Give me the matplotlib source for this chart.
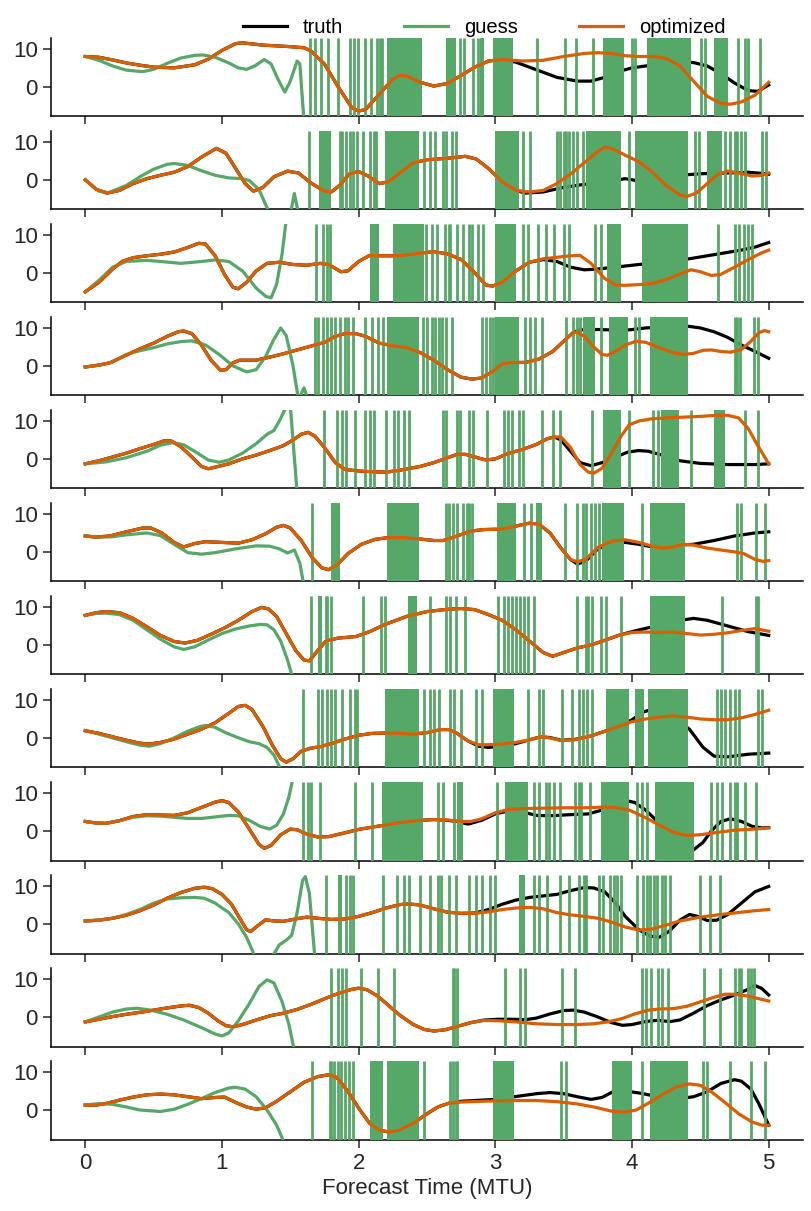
import matplotlib.pyplot as plt

plt.rcParams['font.family'] = ['Liberation Sans', 'DejaVu Sans']

# (time, value) knots
truth1 = [(0,8.0),(0.1,7.8),(0.2,7.1),(0.3,6.3),(0.4,5.7),(0.5,5.2),(0.65,5.0),(0.8,5.8),(0.9,7.3),(1.0,9.6),(1.1,11.4),(1.15,11.6),(1.3,11.0),(1.5,10.6),(1.6,10.3),(1.65,9.5),(1.75,6.0),(1.85,0.0),(1.95,-5.5),(2.0,-6.4),(2.05,-6.0),(2.15,-2.0),(2.25,2.0),(2.3,3.0),(2.35,2.9),(2.45,1.2),(2.55,0.2),(2.65,0.9),(2.75,3.0),(2.85,5.2),(2.95,6.8),(3.05,7.2),(3.15,6.5),(3.3,4.5),(3.45,2.5),(3.6,1.5),(3.7,1.5),(3.8,2.5),(3.9,4.0),(4.0,5.0),(4.2,6.0),(4.35,6.6),(4.45,6.4),(4.55,5.5),(4.65,3.5),(4.75,1.0),(4.85,-1.0),(4.92,-1.2),(5.0,0.5)]
truth2 = [(0,0.0),(0.08,-2.5),(0.16,-3.5),(0.25,-2.8),(0.35,-1.0),(0.45,0.3),(0.55,1.2),(0.65,2.0),(0.75,3.5),(0.85,6.0),(0.96,8.3),(1.03,7.0),(1.1,3.0),(1.17,-1.0),(1.23,-3.0),(1.3,-2.0),(1.38,0.8),(1.48,2.3),(1.56,1.8),(1.65,-0.8),(1.75,-3.0),(1.8,-3.2),(1.86,-1.5),(1.93,1.5),(2.0,2.2),(2.07,1.0),(2.15,-1.0),(2.22,-0.5),(2.3,1.8),(2.4,4.5),(2.5,5.3),(2.65,5.7),(2.78,6.2),(2.86,5.5),(2.95,3.0),(3.05,-0.5),(3.15,-2.8),(3.22,-3.5),(3.35,-3.2),(3.5,-2.0),(3.65,-1.2),(3.8,-0.5),(3.95,0.3),(4.1,-0.6),(4.2,0.0),(4.35,1.2),(4.5,1.6),(4.7,1.8),(4.85,2.0),(4.95,1.7),(5.0,1.5)]
truth3 = [(0,-5.0),(0.1,-2.5),(0.2,1.0),(0.27,3.0),(0.35,4.0),(0.45,4.5),(0.55,4.9),(0.65,5.5),(0.75,6.7),(0.83,7.8),(0.88,7.6),(0.95,4.5),(1.02,-0.5),(1.08,-3.8),(1.12,-4.2),(1.18,-2.5),(1.25,0.5),(1.33,2.5),(1.42,2.8),(1.52,2.2),(1.62,2.0),(1.72,2.5),(1.78,2.2),(1.87,0.3),(1.92,0.5),(2.0,3.0),(2.08,4.6),(2.15,4.5),(2.3,4.5),(2.45,5.2),(2.55,5.6),(2.65,5.0),(2.75,3.5),(2.85,0.0),(2.93,-3.2),(2.98,-3.5),(3.05,-2.5),(3.15,0.5),(3.25,2.8),(3.35,3.5),(3.45,3.0),(3.55,1.5),(3.65,0.8),(3.75,1.0),(3.9,1.6),(4.05,2.2),(4.2,2.7),(4.4,3.6),(4.6,4.8),(4.8,6.0),(4.9,6.8),(5.0,8.0)]
truth4 = [(0,-0.3),(0.1,0.2),(0.18,0.8),(0.28,2.5),(0.4,4.5),(0.5,6.0),(0.6,7.8),(0.68,9.0),(0.72,9.2),(0.78,8.5),(0.85,5.5),(0.92,1.5),(0.99,-1.2),(1.03,-1.0),(1.08,0.8),(1.13,1.5),(1.25,1.5),(1.35,2.3),(1.45,3.2),(1.55,4.2),(1.65,5.2),(1.75,6.2),(1.83,7.8),(1.9,8.5),(1.98,8.5),(2.05,7.8),(2.15,6.0),(2.25,5.3),(2.35,4.8),(2.45,3.5),(2.55,1.5),(2.65,-1.0),(2.75,-3.0),(2.83,-3.5),(2.9,-3.2),(2.98,-1.5),(3.05,0.5),(3.12,0.9),(3.22,0.9),(3.32,1.8),(3.42,3.8),(3.5,6.5),(3.57,8.8),(3.62,9.5),(3.75,9.6),(3.9,9.4),(3.98,9.5),(4.1,10.0),(4.25,10.3),(4.4,10.5),(4.5,10.0),(4.6,9.0),(4.7,7.5),(4.8,5.5),(4.9,3.8),(5.0,2.0)]
truth5 = [(0,-1.3),(0.1,-0.5),(0.2,0.5),(0.3,1.5),(0.4,2.7),(0.5,3.8),(0.58,4.8),(0.63,4.7),(0.7,3.2),(0.78,0.5),(0.85,-2.0),(0.9,-2.6),(0.95,-2.2),(1.05,-1.3),(1.15,0.0),(1.25,1.0),(1.35,2.2),(1.45,3.5),(1.52,5.0),(1.58,6.5),(1.63,7.0),(1.68,6.0),(1.75,3.0),(1.83,-1.0),(1.9,-2.8),(2.0,-3.2),(2.1,-3.4),(2.2,-3.5),(2.3,-3.0),(2.45,-2.0),(2.55,-1.0),(2.65,0.3),(2.72,1.2),(2.78,1.2),(2.86,0.4),(2.93,-0.3),(3.0,0.0),(3.1,1.5),(3.2,2.5),(3.3,3.8),(3.38,5.3),(3.43,5.8),(3.48,5.0),(3.55,2.0),(3.62,-1.0),(3.7,-1.8),(3.78,-1.0),(3.88,0.5),(3.97,1.8),(4.05,2.2),(4.12,2.0),(4.22,1.0),(4.35,-0.5),(4.5,-1.2),(4.7,-1.5),(4.9,-1.5),(5.0,-1.3)]
truth6 = [(0,4.2),(0.08,3.9),(0.18,4.2),(0.3,5.3),(0.42,6.3),(0.48,6.3),(0.56,5.0),(0.65,2.5),(0.72,1.3),(0.8,2.2),(0.88,2.7),(1.0,2.5),(1.12,2.3),(1.22,3.2),(1.32,4.8),(1.4,6.5),(1.45,7.0),(1.5,6.3),(1.58,3.0),(1.66,-1.5),(1.73,-4.2),(1.78,-4.7),(1.84,-3.5),(1.92,-0.5),(2.02,2.0),(2.12,3.3),(2.22,3.8),(2.32,3.8),(2.45,3.4),(2.55,3.0),(2.62,3.0),(2.72,4.2),(2.82,5.5),(2.92,5.9),(3.05,6.0),(3.15,6.8),(3.25,7.6),(3.32,7.3),(3.4,5.0),(3.48,1.0),(3.55,-2.0),(3.6,-3.2),(3.66,-2.5),(3.75,0.8),(3.85,2.3),(3.95,2.5),(4.05,2.0),(4.15,1.3),(4.25,1.2),(4.35,1.8),(4.45,2.0),(4.6,3.0),(4.75,4.2),(4.9,5.0),(5.0,5.3)]
truth7 = [(0,7.8),(0.08,8.5),(0.15,8.8),(0.25,8.5),(0.35,7.0),(0.45,4.8),(0.55,2.5),(0.65,0.9),(0.73,0.5),(0.82,1.2),(0.92,2.8),(1.02,4.5),(1.12,6.5),(1.22,8.8),(1.29,9.9),(1.34,9.5),(1.4,7.5),(1.47,3.0),(1.54,-1.5),(1.6,-4.0),(1.64,-4.2),(1.7,-1.5),(1.76,1.0),(1.85,1.8),(1.98,2.2),(2.08,3.5),(2.2,5.5),(2.35,7.5),(2.5,8.8),(2.65,9.4),(2.75,9.6),(2.85,9.3),(2.95,8.0),(3.05,6.5),(3.15,4.0),(3.25,1.0),(3.35,-2.0),(3.42,-3.0),(3.5,-2.0),(3.6,-0.8),(3.7,0.0),(3.8,1.2),(3.9,2.5),(4.0,3.5),(4.15,4.8),(4.3,6.2),(4.45,7.0),(4.55,6.5),(4.7,5.0),(4.85,3.5),(5.0,2.5)]
truth8 = [(0,1.9),(0.1,1.2),(0.2,0.3),(0.3,-0.6),(0.4,-1.4),(0.47,-1.6),(0.55,-1.2),(0.65,-0.3),(0.75,1.0),(0.85,2.3),(0.95,4.0),(1.05,6.5),(1.12,8.3),(1.17,8.6),(1.22,7.5),(1.3,3.0),(1.37,-2.0),(1.43,-5.5),(1.47,-6.4),(1.52,-5.5),(1.58,-3.5),(1.65,-2.7),(1.72,-2.3),(1.8,-1.5),(1.9,-0.3),(2.0,0.7),(2.1,1.2),(2.2,1.3),(2.3,1.2),(2.4,1.0),(2.5,1.4),(2.6,2.2),(2.66,2.2),(2.72,1.2),(2.8,-0.8),(2.88,-2.2),(2.95,-2.5),(3.05,-2.2),(3.15,-1.5),(3.25,-0.5),(3.33,0.3),(3.4,0.1),(3.48,-0.6),(3.58,-0.4),(3.68,0.3),(3.78,1.5),(3.9,3.0),(4.0,4.8),(4.08,6.8),(4.14,7.5),(4.22,7.0),(4.32,5.0),(4.42,2.3),(4.52,-2.5),(4.6,-4.8),(4.7,-5.0),(4.85,-4.3),(5.0,-4.0)]
truth9 = [(0,2.5),(0.08,2.1),(0.15,2.0),(0.25,2.7),(0.35,3.8),(0.45,4.3),(0.55,4.2),(0.65,4.1),(0.75,4.8),(0.85,6.2),(0.95,7.6),(1.0,8.0),(1.05,7.5),(1.12,5.0),(1.2,0.5),(1.27,-3.5),(1.31,-4.6),(1.36,-3.8),(1.43,-1.0),(1.5,0.5),(1.55,0.3),(1.62,-0.8),(1.7,-1.6),(1.78,-1.5),(1.9,-0.5),(2.0,0.4),(2.15,1.3),(2.3,2.2),(2.45,2.8),(2.55,3.0),(2.65,2.8),(2.72,2.5),(2.8,1.8),(2.9,2.8),(3.0,4.5),(3.1,5.3),(3.2,5.0),(3.3,4.1),(3.4,4.0),(3.55,4.3),(3.68,4.5),(3.78,5.5),(3.88,7.0),(3.96,8.0),(4.02,7.5),(4.1,5.5),(4.2,2.0),(4.3,-1.5),(4.38,-4.0),(4.45,-5.0),(4.52,-3.0),(4.58,0.0),(4.65,2.5),(4.72,3.2),(4.8,2.5),(4.88,1.2),(4.95,0.8),(5.0,0.9)]
truth10 = [(0,0.8),(0.1,1.0),(0.2,1.5),(0.3,2.3),(0.4,3.5),(0.5,5.0),(0.6,6.8),(0.7,8.3),(0.8,9.4),(0.87,9.7),(0.93,9.3),(1.0,7.8),(1.07,5.2),(1.13,1.5),(1.18,-1.5),(1.21,-2.0),(1.26,-0.5),(1.32,1.1),(1.38,0.8),(1.45,0.7),(1.55,1.4),(1.62,1.8),(1.7,1.5),(1.8,1.2),(1.9,1.3),(2.0,2.0),(2.1,3.0),(2.2,4.2),(2.3,5.1),(2.36,5.3),(2.45,5.0),(2.55,4.0),(2.65,3.1),(2.75,2.8),(2.85,2.9),(2.95,3.8),(3.05,5.2),(3.15,6.3),(3.25,7.0),(3.35,7.4),(3.45,7.8),(3.55,8.8),(3.65,9.6),(3.72,9.5),(3.8,8.5),(3.88,5.5),(3.95,2.0),(4.05,-1.5),(4.13,-3.2),(4.2,-3.5),(4.27,-2.0),(4.35,1.0),(4.42,2.5),(4.48,2.0),(4.55,0.9),(4.62,1.0),(4.7,2.5),(4.8,5.5),(4.9,8.5),(5.0,9.9)]
truth11 = [(0,-1.3),(0.1,-0.6),(0.2,0.1),(0.3,0.7),(0.45,1.5),(0.6,2.4),(0.7,2.9),(0.76,3.1),(0.83,2.5),(0.9,1.0),(0.97,-1.0),(1.03,-2.3),(1.08,-2.6),(1.15,-2.0),(1.25,-0.8),(1.35,0.3),(1.45,1.0),(1.55,2.0),(1.65,3.3),(1.75,4.8),(1.85,6.2),(1.95,7.3),(2.0,7.6),(2.06,7.2),(2.14,5.5),(2.22,3.0),(2.3,0.5),(2.4,-2.0),(2.48,-3.3),(2.55,-3.7),(2.63,-3.4),(2.72,-2.5),(2.82,-1.5),(2.92,-0.8),(3.02,-0.6),(3.12,-0.6),(3.22,-0.7),(3.3,-0.3),(3.4,0.8),(3.5,1.7),(3.57,1.8),(3.65,1.3),(3.75,0.0),(3.85,-1.5),(3.93,-2.2),(4.0,-2.0),(4.1,-1.2),(4.18,-0.9),(4.28,-1.2),(4.35,-0.8),(4.45,1.0),(4.55,3.0),(4.65,4.5),(4.75,5.8),(4.83,7.0),(4.9,8.3),(4.95,7.5),(5.0,5.8)]
truth12 = [(0,1.3),(0.08,1.3),(0.15,1.7),(0.25,2.6),(0.35,3.4),(0.45,4.0),(0.55,4.2),(0.65,4.0),(0.75,3.5),(0.85,3.0),(0.95,3.3),(1.02,3.4),(1.1,2.0),(1.18,0.8),(1.25,0.2),(1.32,0.6),(1.4,2.3),(1.5,4.8),(1.6,7.3),(1.7,8.8),(1.78,9.3),(1.84,8.6),(1.92,5.0),(2.0,0.5),(2.08,-3.5),(2.15,-5.3),(2.22,-5.8),(2.3,-5.3),(2.4,-3.5),(2.5,-1.0),(2.58,0.8),(2.66,1.8),(2.75,2.3),(2.9,2.6),(3.0,2.8),(3.1,3.3),(3.2,3.8),(3.3,4.3),(3.4,4.6),(3.5,4.3),(3.6,3.5),(3.7,2.8),(3.78,3.3),(3.86,4.8),(3.95,5.0),(4.05,4.5),(4.15,3.8),(4.25,3.3),(4.35,3.0),(4.45,3.5),(4.55,4.8),(4.65,7.0),(4.75,8.0),(4.8,7.6),(4.87,5.5),(4.93,1.5),(5.0,-4.0)]

# optimized run: follows truth until the first knot listed here
opt1 = [(3.05,7.2),(3.2,6.8),(3.35,7.0),(3.5,8.0),(3.65,8.8),(3.75,9.0),(3.85,8.8),(3.95,8.2),(4.05,8.0),(4.15,8.0),(4.25,7.5),(4.35,5.5),(4.45,1.5),(4.55,-2.5),(4.65,-4.4),(4.72,-4.6),(4.8,-4.0),(4.9,-2.2),(5.0,1.2)]
opt2 = [(3.15,-2.8),(3.25,-3.2),(3.35,-2.8),(3.45,-1.0),(3.55,1.5),(3.65,4.5),(3.75,7.5),(3.8,8.6),(3.87,8.0),(3.95,6.5),(4.05,4.8),(4.15,2.0),(4.25,-1.5),(4.35,-4.0),(4.4,-4.4),(4.47,-3.5),(4.55,-1.0),(4.63,1.5),(4.7,2.3),(4.78,1.8),(4.88,1.0),(4.95,1.2),(5.0,1.8)]
opt3 = [(3.35,3.7),(3.45,4.1),(3.55,4.5),(3.62,4.6),(3.7,2.5),(3.8,-1.5),(3.88,-3.2),(3.95,-3.3),(4.05,-3.1),(4.15,-2.8),(4.25,-1.8),(4.35,-0.3),(4.43,0.8),(4.5,0.3),(4.58,-0.7),(4.65,-0.4),(4.75,1.5),(4.85,3.5),(4.95,5.3),(5.0,6.0)]
opt4 = [(3.57,8.8),(3.6,8.9),(3.65,7.8),(3.72,5.0),(3.78,3.0),(3.82,2.8),(3.88,3.8),(3.95,5.5),(4.03,6.5),(4.1,6.2),(4.2,4.8),(4.3,3.5),(4.38,3.0),(4.45,3.3),(4.52,4.1),(4.58,4.2),(4.65,3.8),(4.72,3.6),(4.8,4.3),(4.87,6.5),(4.93,8.8),(4.97,9.3),(5.0,9.0)]
opt5 = [(3.48,5.8),(3.55,3.0),(3.62,-1.5),(3.68,-3.5),(3.72,-3.8),(3.78,-2.5),(3.85,1.5),(3.92,6.0),(3.98,9.0),(4.05,10.0),(4.15,10.6),(4.3,10.9),(4.5,11.2),(4.62,11.5),(4.7,11.5),(4.78,10.8),(4.85,8.0),(4.92,3.5),(5.0,-1.3)]
opt6 = [(3.55,-2.0),(3.6,-2.6),(3.66,-2.0),(3.75,1.2),(3.85,2.8),(3.95,3.2),(4.05,2.5),(4.15,1.5),(4.22,1.0),(4.3,1.3),(4.38,2.0),(4.45,1.8),(4.55,1.0),(4.65,0.5),(4.75,0.0),(4.82,-0.5),(4.9,-2.0),(4.96,-2.5),(5.0,-2.3)]
opt7 = [(4.0,3.3),(4.1,3.4),(4.2,3.3),(4.3,3.4),(4.4,3.0),(4.5,2.6),(4.6,2.8),(4.7,3.2),(4.8,3.8),(4.9,4.3),(5.0,3.6)]
opt8 = [(2.88,-1.8),(2.95,-1.8),(3.05,-1.6),(3.15,-1.2),(3.25,-0.5),(3.33,0.3),(3.4,0.0),(3.48,-0.7),(3.58,-0.5),(3.68,0.3),(3.78,1.5),(3.9,3.0),(4.0,4.3),(4.1,5.0),(4.2,5.5),(4.3,5.8),(4.4,5.5),(4.5,5.0),(4.6,4.8),(4.7,4.8),(4.8,5.3),(4.9,6.2),(5.0,7.3)]
opt9 = [(2.65,2.9),(2.75,2.5),(2.82,2.5),(2.9,3.2),(3.0,4.8),(3.1,5.7),(3.2,5.9),(3.35,6.0),(3.5,6.1),(3.65,6.1),(3.8,6.3),(3.88,6.2),(3.98,5.5),(4.1,3.5),(4.2,1.5),(4.3,-0.3),(4.4,-1.2),(4.5,-1.0),(4.6,-0.5),(4.75,0.2),(4.9,0.5),(5.0,0.8)]
opt10 = [(2.85,2.8),(2.95,3.2),(3.05,3.8),(3.15,4.2),(3.25,4.4),(3.35,4.0),(3.45,3.0),(3.55,2.4),(3.65,2.0),(3.75,1.5),(3.85,0.5),(3.95,-0.8),(4.05,-1.6),(4.15,-1.3),(4.25,-0.3),(4.35,0.8),(4.5,1.8),(4.65,2.5),(4.8,3.1),(4.9,3.5),(5.0,3.8)]
opt11 = [(2.92,-0.9),(3.02,-1.0),(3.15,-1.3),(3.3,-1.8),(3.45,-2.0),(3.6,-2.0),(3.72,-1.8),(3.82,-1.3),(3.92,-0.5),(4.02,0.8),(4.12,1.8),(4.2,2.1),(4.3,2.2),(4.4,2.8),(4.5,4.0),(4.6,5.2),(4.68,6.0),(4.75,6.0),(4.85,5.5),(4.93,4.8),(5.0,4.2)]
opt12 = [(2.66,1.8),(2.75,2.1),(2.9,2.3),(3.0,2.4),(3.15,2.5),(3.3,2.5),(3.45,2.2),(3.6,1.6),(3.72,0.8),(3.85,-0.3),(3.95,-0.6),(4.03,0.0),(4.12,1.8),(4.22,4.0),(4.32,6.0),(4.42,6.9),(4.5,6.5),(4.58,4.8),(4.68,2.0),(4.78,-1.0),(4.88,-3.2),(4.95,-4.0),(5.0,-4.0)]

# guess run: smooth start, then it blows up
guess1 = [(0,8.0),(0.1,7.0),(0.2,5.5),(0.3,4.4),(0.42,4.0),(0.5,4.6),(0.6,6.2),(0.7,7.6),(0.8,8.3),(0.86,8.4),(0.95,7.8),(1.05,6.3),(1.12,5.0),(1.18,4.6),(1.24,5.5),(1.31,7.2),(1.36,6.0),(1.41,2.0),(1.46,-1.4),(1.5,1.5),(1.55,6.8),(1.57,6.0),(1.6,-9)]
guess2 = [(0,0),(0.1,-3.0),(0.17,-3.4),(0.3,-1.5),(0.4,0.8),(0.5,2.8),(0.6,4.1),(0.65,4.3),(0.75,3.8),(0.85,2.4),(0.95,1.2),(1.05,0.5),(1.15,0.3),(1.2,-0.2),(1.27,-2.5),(1.35,-9),(1.5,-9),(1.53,-3.6),(1.56,-9)]
guess3 = [(0,-5.0),(0.1,-2.0),(0.2,1.5),(0.3,3.0),(0.45,3.3),(0.55,3.0),(0.7,2.5),(0.85,3.0),(0.95,3.4),(1.05,3.0),(1.15,0.5),(1.25,-4.0),(1.32,-6.2),(1.36,-6.6),(1.4,-3.0),(1.44,5.0),(1.47,14)]
guess4 = [(0,-0.3),(0.1,0.2),(0.2,1.0),(0.3,3.0),(0.4,4.0),(0.5,4.8),(0.6,5.8),(0.7,6.4),(0.78,6.6),(0.88,5.5),(0.98,3.0),(1.08,0.0),(1.18,-1.6),(1.25,-1.0),(1.32,2.5),(1.38,7.0),(1.43,10.0),(1.47,8.0),(1.52,0.0),(1.56,-9),(1.6,-5.8),(1.63,-9)]
guess5 = [(0,-1.3),(0.15,-0.8),(0.3,0.3),(0.45,2.0),(0.55,3.6),(0.64,4.3),(0.72,3.7),(0.8,2.0),(0.9,-0.3),(0.98,-0.9),(1.05,-0.3),(1.15,1.5),(1.25,4.0),(1.33,6.5),(1.38,7.5),(1.42,10.0),(1.46,13),(1.5,14),(1.55,-9)]
guess6 = [(0,4.2),(0.1,3.9),(0.2,4.0),(0.3,4.5),(0.45,5.0),(0.55,4.3),(0.65,2.0),(0.75,-0.2),(0.85,-0.6),(0.95,-0.2),(1.1,0.8),(1.25,1.6),(1.35,1.5),(1.42,0.8),(1.48,-0.3),(1.53,0.5),(1.57,-3.0),(1.6,-9)]
guess7 = [(0,7.8),(0.08,8.3),(0.15,8.4),(0.25,8.0),(0.35,6.5),(0.45,4.0),(0.55,1.5),(0.65,-0.5),(0.72,-1.2),(0.8,-0.5),(0.9,1.3),(1.0,3.0),(1.1,4.2),(1.2,5.0),(1.28,5.4),(1.33,5.3),(1.38,4.0),(1.43,1.0),(1.48,-4.0),(1.52,-9)]
guess8 = [(0,1.9),(0.1,1.0),(0.2,0.0),(0.3,-1.0),(0.4,-1.9),(0.47,-2.2),(0.55,-1.5),(0.65,0.0),(0.75,1.8),(0.84,3.0),(0.88,3.3),(0.95,2.8),(1.02,1.5),(1.1,0.3),(1.2,-1.0),(1.27,-1.5),(1.33,-2.5),(1.38,-4.5),(1.44,-9)]
guess9 = [(0,2.5),(0.08,2.1),(0.15,2.0),(0.25,2.7),(0.35,3.6),(0.45,4.0),(0.55,3.9),(0.65,3.6),(0.75,3.3),(0.85,3.3),(0.95,3.7),(1.05,4.1),(1.12,4.0),(1.2,2.8),(1.28,1.2),(1.35,0.5),(1.4,1.5),(1.45,4.5),(1.49,9.0),(1.52,14)]
guess10 = [(0,0.8),(0.1,1.0),(0.2,1.5),(0.3,2.5),(0.4,3.8),(0.5,5.5),(0.6,6.6),(0.7,6.9),(0.8,7.0),(0.87,6.8),(0.95,5.5),(1.05,3.0),(1.12,0.0),(1.18,-3.5),(1.24,-8.5),(1.37,-8.5),(1.42,-5.5),(1.47,-4.3),(1.51,-3.0),(1.55,3.0),(1.59,11.5),(1.61,12.5),(1.64,8.0),(1.68,-9)]
guess11 = [(0,-1.3),(0.1,0.0),(0.2,1.3),(0.3,2.1),(0.38,2.3),(0.48,1.8),(0.6,0.7),(0.72,-0.8),(0.85,-2.8),(0.95,-4.5),(1.0,-5.0),(1.05,-4.2),(1.12,-1.0),(1.2,3.5),(1.27,8.0),(1.33,9.8),(1.38,9.0),(1.44,4.0),(1.49,-2.0),(1.53,-9)]
guess12 = [(0,1.3),(0.1,1.7),(0.2,1.5),(0.3,0.8),(0.4,0.0),(0.55,-0.4),(0.65,0.2),(0.75,1.5),(0.85,3.0),(0.95,4.6),(1.05,5.8),(1.1,6.0),(1.17,5.5),(1.25,3.5),(1.33,0.0),(1.4,-4.0),(1.46,-9)]

# times where the blown-up guess crosses the whole panel
spikes1 = [1.645,1.683,1.721,1.774,1.85,1.936,1.967,1.993,2.05,2.088,2.133,2.156,2.171,2.738,2.769,2.833,2.871,3.306,3.506,3.589,3.714,3.998,4.024,4.508,4.535,4.773,4.83,4.852,4.936]
spikes2 = [1.64,1.86,1.88,1.91,1.94,1.96,1.99,2.03,2.08,2.11,2.13,2.48,2.52,2.56,2.62,2.64,2.68,2.71,3.20,3.25,3.45,3.47,3.50,3.52,3.54,3.57,3.60,3.64,3.98,4.46,4.49,4.68,4.72,4.75,4.77,4.80,4.83,4.95,4.98]
spikes3 = [1.69,1.74,1.77,1.79,2.49,2.54,2.57,2.63,2.66,2.67,2.72,2.76,2.81,2.83,2.87,2.91,3.20,3.24,3.31,3.37,3.43,3.50,3.54,3.73,3.77,4.63,4.75,4.78,4.82,4.85,4.88]
spikes4 = [1.68,1.70,1.74,1.77,1.80,1.83,1.86,1.90,1.92,1.96,2.05,2.10,2.14,2.18,2.47,2.50,2.54,2.56,2.59,2.61,2.64,2.68,2.90,2.93,2.96,2.98,3.22,3.25,3.29,3.34,3.52,3.57,3.60,3.62,3.77,4.02,4.05,4.75,4.77,4.79,4.89,4.92]
spikes5 = [1.75,1.84,1.88,1.91,1.97,2.05,2.08,2.11,2.20,2.26,2.29,2.33,2.37,2.62,2.64,2.72,2.74,2.81,2.84,2.94,3.06,3.09,3.12,3.17,3.20,3.34,3.42,3.47,3.71,3.98,4.15,4.19,4.43,4.83,4.92]
spikes6 = [1.66,2.64,2.66,2.69,2.72,2.76,2.79,2.81,2.83,3.21,3.26,3.51,3.60,3.64,3.66,3.70,3.73,3.76,4.07,4.77,4.80,4.91,4.97]
spikes7 = [1.65,1.76,1.77,1.80,2.03,2.16,2.19,2.52,2.64,2.67,2.71,2.78,3.02,3.06,3.09,3.12,3.15,3.18,3.21,3.24,3.28,3.60,3.66,3.68,3.71,3.77,3.81,3.92,4.66,4.91,4.92]
spikes8 = [1.59,1.70,1.73,1.77,1.80,1.83,1.88,1.94,1.97,1.99,2.48,2.52,2.55,2.59,2.67,2.70,2.75,2.86,2.90,3.24,3.32,3.35,3.49,3.56,3.61,3.64,3.67,3.71,4.62,4.65,4.68,4.72,4.75,4.78,4.92,4.95]
spikes9 = [1.59,1.63,1.65,1.72,1.97,2.10,2.58,2.62,2.70,3.01,3.28,3.32,3.37,3.39,3.43,3.47,3.58,3.61,3.63,3.69,4.04,4.07,4.11,4.58,4.62,4.66,4.72,4.75,4.77,4.83,4.91]
spikes10 = [1.76,1.91,1.94,1.96,2.18,2.28,2.33,2.37,2.45,2.52,2.58,2.60,2.66,2.71,2.81,2.86,2.90,2.96,3.00,3.28,3.32,3.38,3.47,3.54,3.61,3.65,3.66,3.76,3.79,3.84,3.87,3.89,3.92,4.04,4.08,4.11,4.13,4.16,4.18,4.22,4.24,4.28,4.50,4.57,4.64]
spikes11 = [1.80,1.85,1.88,1.91,2.02,2.14,2.26,2.69,2.70,2.72,3.07,3.18,3.22,3.49,3.58,4.07,4.10,4.14,4.19,4.22,4.26,4.53,4.64,4.75,4.78,4.80,4.85,4.87,4.89]
spikes12 = [1.66,1.79,1.80,1.82,1.85,1.87,1.90,1.93,1.96,2.48,2.67,2.69,2.71,2.72,3.48,3.52,4.07,4.52,4.55,4.72,4.87,4.97]

# time spans where the spikes are so dense they fill the panel
bands1 = [(2.21,2.46),(2.64,2.71),(2.89,2.92),(2.98,3.13),(3.79,3.94),(4.11,4.43),(4.60,4.70)]
bands2 = [(1.71,1.80),(2.19,2.44),(3.00,3.17),(3.66,3.92),(4.02,4.41),(4.55,4.66)]
bands3 = [(2.08,2.15),(2.25,2.48),(3.00,3.15),(3.82,3.92),(4.07,4.41)]
bands4 = [(2.21,2.44),(3.00,3.17),(3.64,3.73),(3.83,3.97),(4.13,4.41)]
bands5 = [(3.79,3.92),(4.21,4.34),(4.60,4.68)]
bands6 = [(1.80,1.86),(2.21,2.44),(3.01,3.15),(3.30,3.34),(3.78,3.94),(4.13,4.39)]
bands7 = [(1.70,1.73),(2.36,2.43),(4.13,4.39)]
bands8 = [(2.19,2.44),(2.98,3.14),(3.81,3.98),(4.02,4.09),(4.12,4.41)]
bands9 = [(2.17,2.47),(2.72,2.76),(3.07,3.24),(3.77,3.98),(4.17,4.45)]
bands10 = [(1.85,1.88),(3.17,3.22)]
bands11 = []
bands12 = [(2.08,2.18),(2.21,2.44),(2.98,3.14),(3.85,4.00),(4.13,4.41)]

truths = [truth1,truth2,truth3,truth4,truth5,truth6,truth7,truth8,truth9,truth10,truth11,truth12]
opts = [opt1,opt2,opt3,opt4,opt5,opt6,opt7,opt8,opt9,opt10,opt11,opt12]
guesses = [guess1,guess2,guess3,guess4,guess5,guess6,guess7,guess8,guess9,guess10,guess11,guess12]
spikes = [spikes1,spikes2,spikes3,spikes4,spikes5,spikes6,spikes7,spikes8,spikes9,spikes10,spikes11,spikes12]
bands = [bands1,bands2,bands3,bands4,bands5,bands6,bands7,bands8,bands9,bands10,bands11,bands12]

green = '#55a868'
orange = '#d95f02'

fig, axes = plt.subplots(12, 1, figsize=(8.11, 12.11), dpi=100, sharex=True)
fig.subplots_adjust(left=0.063, right=0.99, top=0.969, bottom=0.059, hspace=0.18)

for ax, tr, op, gs, sp, bd in zip(axes, truths, opts, guesses, spikes, bands):
    ax.plot([p[0] for p in tr], [p[1] for p in tr], color='black', lw=2.3, zorder=2, label='truth')
    ax.plot([p[0] for p in gs], [p[1] for p in gs], color=green, lw=2.3, zorder=3, label='guess')
    ax.vlines(sp, 0, 1, transform=ax.get_xaxis_transform(), color=green, lw=2, zorder=3)
    for a, b in bd:
        ax.axvspan(a, b, color=green, lw=0, zorder=3)
    full = [p for p in tr if p[0] < op[0][0]] + op
    ax.plot([p[0] for p in full], [p[1] for p in full], color=orange, lw=2.3, zorder=4, label='optimized')
    ax.set_xlim(-0.25, 5.25)
    ax.set_ylim(-7.8, 13.0)
    ax.set_yticks([0, 10])
    ax.spines['top'].set_visible(False)
    ax.spines['right'].set_visible(False)
    ax.spines['left'].set_linewidth(1.1)
    ax.spines['bottom'].set_linewidth(1.1)
    ax.tick_params(labelsize=16, length=6, width=1.1, colors='#262626')

axes[-1].set_xticks([0, 1, 2, 3, 4, 5])
axes[-1].set_xlabel('Forecast Time (MTU)', fontsize=16, color='#262626', labelpad=3)

h, l = axes[0].get_legend_handles_labels()
fig.legend(h, l, loc='upper center', bbox_to_anchor=(0.597, 1.0), ncol=3, frameon=False,
           fontsize=14.5, handlelength=2.2, columnspacing=3.0, handletextpad=0.8)

fig.savefig('out.png', dpi=100)
